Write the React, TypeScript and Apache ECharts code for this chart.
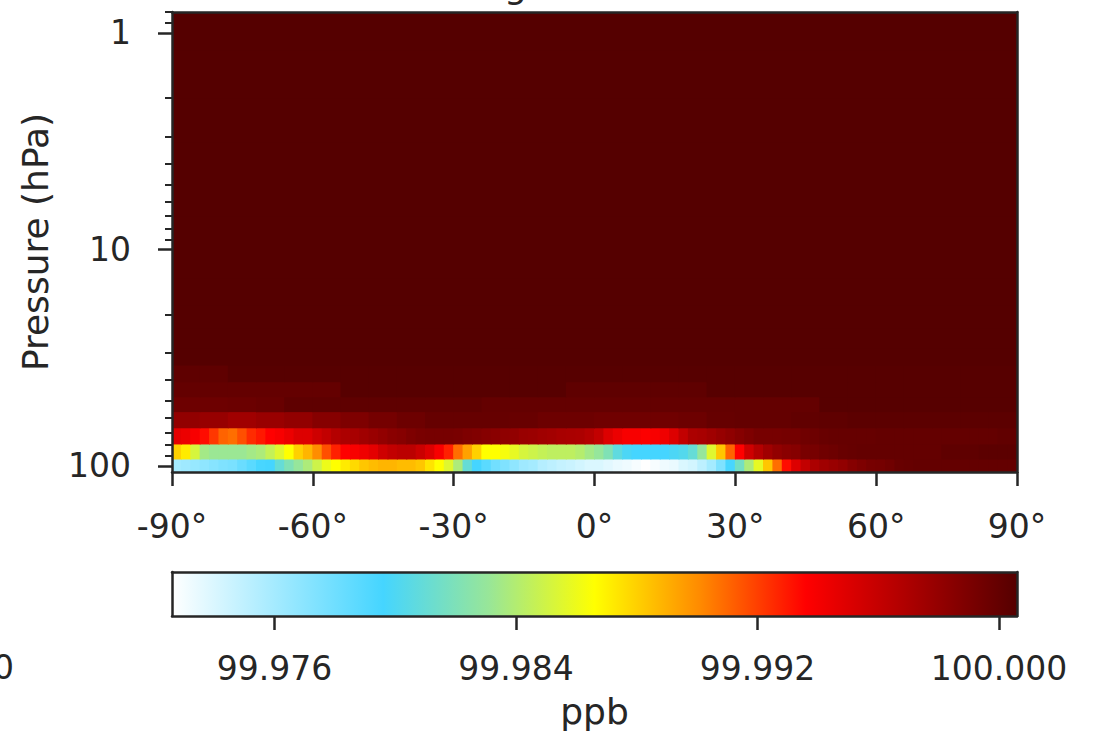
import React, { useEffect, useRef } from "react";
import * as echarts from "echarts";

// ---------------- data ----------------
const LAT_MIN = -90;
const LAT_MAX = 90;
const LAT_TICKS = [-90, -60, -30, 0, 30, 60, 90];

// pressure level edges (hPa), from the bottom (surface side) upwards
const P_EDGES = [106.6, 92.8, 79.1, 66.6, 56.1, 47.9, 40.8, 34.2, 28.5, 23, 18, 13.5, 10, 7, 4.8, 3.2, 2, 1.2, 0.8];
const P_MIN = 0.8;
const P_MAX = 106.6;
const P_MAJOR_TICKS = [1, 10, 100];
const P_MINOR_TICKS = [0.8, 0.9, 2, 3, 4, 5, 6, 7, 8, 9, 20, 30, 40, 50, 60, 70, 80, 90];

// mixing ratio (ppb) per latitude band, one list per level (bottom level first)
const LEVEL_1 = [
  99.976, 99.9762, 99.9765, 99.9768, 99.9771, 99.9774, 99.9776, 99.9782, 99.9788, 99.9795,
  99.9796, 99.981, 99.9821, 99.983, 99.9838, 99.9849, 99.986, 99.9866, 99.9872, 99.9877,
  99.9883, 99.9886, 99.9888, 99.9888, 99.9886, 99.9886, 99.9883, 99.9874, 99.9866, 99.9855,
  99.9838, 99.981, 99.9796, 99.9788, 99.9779, 99.9774, 99.9768, 99.9762, 99.976, 99.9754,
  99.9751, 99.9748, 99.9746, 99.9743, 99.974, 99.974, 99.9737, 99.9734, 99.9732, 99.9729,
  99.9726, 99.9729, 99.9732, 99.9734, 99.974, 99.9743, 99.9751, 99.976, 99.9774, 99.9795,
  99.9816, 99.9838, 99.9858, 99.9883, 99.9908, 99.9933, 99.995, 99.9961, 99.997, 99.9975,
  99.9978, 99.9981, 99.9986, 99.9989, 99.9992, 99.9993, 99.9995, 99.9998, 99.9999, 100.0,
  100.0, 100.0, 100.0, 100.0, 100.0, 100.0, 100.0, 100.0, 100.0, 100.0,
];
const LEVEL_2 = [
  99.988, 99.9872, 99.9852, 99.9835, 99.9832, 99.9832, 99.9832, 99.9832, 99.9835, 99.9838,
  99.9846, 99.9855, 99.9866, 99.988, 99.9888, 99.99, 99.9916, 99.9928, 99.9936, 99.9939,
  99.9942, 99.9947, 99.9956, 99.9961, 99.9964, 99.9964, 99.9958, 99.995, 99.9939, 99.9928,
  99.9908, 99.9894, 99.988, 99.9866, 99.9866, 99.9863, 99.9858, 99.9852, 99.9849, 99.9846,
  99.9844, 99.9844, 99.9844, 99.9841, 99.9835, 99.983, 99.9821, 99.9807, 99.9799, 99.9796,
  99.9796, 99.9796, 99.9796, 99.9799, 99.9802, 99.981, 99.983, 99.9855, 99.9883, 99.9911,
  99.9936, 99.9956, 99.9967, 99.9975, 99.9981, 99.9984, 99.9986, 99.9991, 99.9992, 99.9995,
  99.9996, 99.9998, 99.9999, 100.0, 100.0, 100.0, 100.0, 100.0, 100.0, 100.0,
  100.0, 100.0, 100.0002, 100.0002, 100.0002, 100.0002, 100.0003, 100.0003, 100.0003, 100.0003,
];
const LEVEL_3 = [
  99.9947, 99.9944, 99.9939, 99.9933, 99.9922, 99.9911, 99.9908, 99.9916, 99.9925, 99.993,
  99.9936, 99.9939, 99.9944, 99.995, 99.995, 99.9956, 99.9961, 99.9967, 99.997, 99.9972,
  99.9975, 99.9978, 99.9981, 99.9984, 99.9986, 99.9989, 99.9991, 99.9992, 99.9992, 99.9992,
  99.9991, 99.9989, 99.9988, 99.9986, 99.9984, 99.9982, 99.9981, 99.9978, 99.9977, 99.9975,
  99.9974, 99.9972, 99.9971, 99.997, 99.9967, 99.9961, 99.995, 99.9944, 99.9939, 99.9939,
  99.9937, 99.9939, 99.9942, 99.995, 99.9961, 99.997, 99.9972, 99.9975, 99.9979, 99.9982,
  99.9986, 99.9989, 99.9992, 99.9992, 99.9992, 99.9993, 99.9993, 99.9995, 99.9996, 99.9998,
  99.9999, 99.9999, 99.9999, 99.9999, 99.9999, 100.0, 100.0, 100.0, 100.0, 100.0,
  100.0, 100.0, 100.0, 100.0, 100.0, 100.0, 100.0, 100.0, 100.0001, 100.0001,
];
const LEVEL_4 = [
  99.9981, 99.9979, 99.9975, 99.9978, 99.9981, 99.9986, 99.9989, 99.9993, 99.9996, 99.9999,
  99.9999, 99.9999, 99.9998, 99.9996, 99.9996, 99.9995, 99.9995, 99.9995, 99.9996, 99.9999,
  100.0, 100.0, 100.0001, 100.0002, 100.0003, 100.0003, 100.0003, 100.0003, 100.0003, 100.0003,
];
const LEVEL_5 = [
  99.9996, 99.9996, 99.9997, 99.9998, 100.0002, 100.0002, 100.0002, 100.0002, 100.0002, 100.0002,
  100.0002, 100.0, 100.0, 100.0, 100.0, 100.0, 100.0, 100.0, 100.0, 100.0,
  100.0, 100.0, 100.0, 100.0005, 100.0005, 100.0005, 100.0005, 100.0005, 100.0005, 100.0005,
];
const LEVEL_6 = [
  100.0, 100.0, 100.0, 100.0, 100.0, 100.0, 100.0005, 100.0005, 100.0005, 100.0005,
  100.0005, 100.0005, 100.0005, 100.0005, 100.0002, 100.0002, 100.0002, 100.0002, 100.0002, 100.0005,
  100.0005, 100.0005, 100.0005, 100.0005, 100.0005, 100.0005, 100.0005, 100.0005, 100.0005, 100.0005,
];
const LEVEL_7 = [
  100.0002, 100.0002, 100.0005, 100.0005, 100.0005, 100.0005, 100.0005, 100.0005, 100.0005, 100.0005,
  100.0005, 100.0005, 100.0005, 100.0005, 100.0005, 100.0005, 100.0005, 100.0005, 100.0005, 100.0005,
  100.0005, 100.0005, 100.0005, 100.0005, 100.0005, 100.0005, 100.0005, 100.0005, 100.0005, 100.0005,
];
const LEVEL_8 = [100.0006];
const LEVEL_9 = [100.0006];
const LEVEL_10 = [100.0006];
const LEVEL_11 = [100.0006];
const LEVEL_12 = [100.0006];
const LEVEL_13 = [100.0006];
const LEVEL_14 = [100.0006];
const LEVEL_15 = [100.0006];
const LEVEL_16 = [100.0006];
const LEVEL_17 = [100.0006];
const LEVEL_18 = [100.0006];

const LEVELS = [
  LEVEL_1, LEVEL_2, LEVEL_3, LEVEL_4, LEVEL_5, LEVEL_6, LEVEL_7, LEVEL_8, LEVEL_9,
  LEVEL_10, LEVEL_11, LEVEL_12, LEVEL_13, LEVEL_14, LEVEL_15, LEVEL_16, LEVEL_17, LEVEL_18,
];

// colour bar
const CBAR_MIN = 99.9726;
const CBAR_MAX = 100.0006;
const CBAR_TICKS = [99.976, 99.984, 99.992, 100.0];
const CMAP = ["#ffffff", "#a2eaff", "#45d5ff", "#98e698", "#ffff00", "#ff8a00", "#ff0000", "#aa0000", "#550000"];

const INK = "#262626";
const FONT = "DejaVu Sans";

function buildCells() {
  const cells: number[][] = [];
  LEVELS.forEach((row, r) => {
    const step = (LAT_MAX - LAT_MIN) / row.length;
    row.forEach((v, i) => {
      cells.push([LAT_MIN + i * step, LAT_MIN + (i + 1) * step, P_EDGES[r], P_EDGES[r + 1], v]);
    });
  });
  return cells;
}

export default function App() {
  const ref = useRef<HTMLDivElement>(null);

  useEffect(() => {
    if (!ref.current) return;
    const chart = echarts.init(ref.current, null, { renderer: "svg" });
    const cells = buildCells();

    const frameAxisX = (gridIndex: number, position: string, extra: any = {}) => ({
      type: "value",
      gridIndex,
      position,
      axisLine: { show: true, onZero: false, lineStyle: { color: INK, width: 2.5 } },
      axisTick: { show: false },
      axisLabel: { show: false },
      splitLine: { show: false },
      z: 10,
      ...extra,
    });

    const option: any = {
      animation: false,
      backgroundColor: "#ffffff",
      textStyle: { fontFamily: FONT },
      grid: [
        { left: 172, right: 79, top: 12, height: 460, outerBoundsMode: "none", containLabel: false },
        { left: 172, right: 79, top: 572, height: 44, outerBoundsMode: "none", containLabel: false },
      ],
      xAxis: [
        {
          type: "value",
          gridIndex: 0,
          position: "bottom",
          min: LAT_MIN,
          max: LAT_MAX,
          axisLine: { show: true, onZero: false, lineStyle: { color: INK, width: 2.5 } },
          axisTick: { show: true, customValues: LAT_TICKS, length: 14, lineStyle: { color: INK, width: 2.5 } },
          axisLabel: {
            show: true,
            customValues: LAT_TICKS,
            formatter: (v: number) => `${v}°`,
            color: INK,
            fontSize: 33,
            fontFamily: FONT,
            margin: 38,
          },
          splitLine: { show: false },
          z: 10,
        },
        frameAxisX(0, "top", { min: LAT_MIN, max: LAT_MAX }),
        {
          type: "value",
          gridIndex: 1,
          position: "bottom",
          min: CBAR_MIN,
          max: CBAR_MAX,
          name: "ppb",
          nameLocation: "middle",
          nameGap: 77,
          nameMoveOverlap: false,
          nameTextStyle: { color: INK, fontSize: 36, fontFamily: FONT },
          axisLine: { show: true, onZero: false, lineStyle: { color: INK, width: 2.5 } },
          axisTick: { show: true, customValues: CBAR_TICKS, length: 14, lineStyle: { color: INK, width: 2.5 } },
          axisLabel: {
            show: true,
            customValues: CBAR_TICKS,
            formatter: (v: number) => v.toFixed(3),
            color: INK,
            fontSize: 33,
            fontFamily: FONT,
            margin: 36,
          },
          splitLine: { show: false },
          z: 10,
        },
        frameAxisX(1, "top", { min: CBAR_MIN, max: CBAR_MAX }),
      ],
      yAxis: [
        {
          type: "log",
          logBase: 10,
          gridIndex: 0,
          position: "left",
          min: P_MIN,
          max: P_MAX,
          inverse: true,
          name: "Pressure (hPa)",
          nameLocation: "middle",
          nameGap: 119,
          nameMoveOverlap: false,
          nameTextStyle: { color: INK, fontSize: 36, fontFamily: FONT },
          axisLine: { show: true, onZero: false, lineStyle: { color: INK, width: 2.5 } },
          axisTick: { show: true, customValues: P_MAJOR_TICKS, length: 14, lineStyle: { color: INK, width: 2.5 } },
          axisLabel: {
            show: true,
            customValues: P_MAJOR_TICKS,
            formatter: (v: number) => `${Math.round(v)}`,
            color: INK,
            fontSize: 33,
            fontFamily: FONT,
            margin: 41,
          },
          splitLine: { show: false },
          z: 10,
        },
        {
          type: "log",
          logBase: 10,
          gridIndex: 0,
          position: "left",
          min: P_MIN,
          max: P_MAX,
          inverse: true,
          axisLine: { show: false, onZero: false },
          axisTick: { show: true, customValues: P_MINOR_TICKS, length: 7, lineStyle: { color: INK, width: 2 } },
          axisLabel: { show: false },
          splitLine: { show: false },
          z: 10,
        },
        {
          type: "log",
          logBase: 10,
          gridIndex: 0,
          position: "right",
          min: P_MIN,
          max: P_MAX,
          inverse: true,
          axisLine: { show: true, onZero: false, lineStyle: { color: INK, width: 2.5 } },
          axisTick: { show: false },
          axisLabel: { show: false },
          splitLine: { show: false },
          z: 10,
        },
        {
          type: "value",
          gridIndex: 1,
          position: "left",
          min: 0,
          max: 1,
          axisLine: { show: true, onZero: false, lineStyle: { color: INK, width: 2.5 } },
          axisTick: { show: false },
          axisLabel: { show: false },
          splitLine: { show: false },
          z: 10,
        },
        {
          type: "value",
          gridIndex: 1,
          position: "right",
          min: 0,
          max: 1,
          axisLine: { show: true, onZero: false, lineStyle: { color: INK, width: 2.5 } },
          axisTick: { show: false },
          axisLabel: { show: false },
          splitLine: { show: false },
          z: 10,
        },
      ],
      visualMap: {
        type: "continuous",
        show: false,
        seriesIndex: 0,
        dimension: 4,
        min: CBAR_MIN,
        max: CBAR_MAX,
        inRange: { color: CMAP },
      },
      series: [
        {
          type: "custom",
          xAxisIndex: 0,
          yAxisIndex: 0,
          clip: true,
          data: cells,
          encode: { x: [0, 1], y: [2, 3] },
          renderItem: (params: any, api: any) => {
            const a = api.coord([api.value(0), api.value(2)]);
            const b = api.coord([api.value(1), api.value(3)]);
            const x = Math.min(a[0], b[0]);
            const y = Math.min(a[1], b[1]);
            return {
              type: "rect",
              shape: { x: x - 0.5, y: y - 0.5, width: Math.abs(b[0] - a[0]) + 1, height: Math.abs(b[1] - a[1]) + 1 },
              style: { fill: api.visual("color"), stroke: null },
            };
          },
        },
        {
          type: "custom",
          xAxisIndex: 2,
          yAxisIndex: 3,
          data: [[CBAR_MIN, CBAR_MAX]],
          renderItem: (params: any, api: any) => {
            const a = api.coord([api.value(0), 0]);
            const b = api.coord([api.value(1), 1]);
            const stops = CMAP.map((c, i) => ({ offset: i / (CMAP.length - 1), color: c }));
            return {
              type: "rect",
              shape: { x: a[0], y: b[1], width: b[0] - a[0], height: a[1] - b[1] },
              style: { fill: new echarts.graphic.LinearGradient(0, 0, 1, 0, stops), stroke: null },
            };
          },
        },
      ],
      graphic: [
        {
          type: "text",
          left: -7,
          top: 651,
          style: { text: "0", fill: INK, fontSize: 33, fontFamily: FONT },
        },
        {
          type: "text",
          x: 504,
          y: -33,
          style: { text: "g", fill: INK, fontSize: 36, fontFamily: FONT },
        },
      ],
    };

    chart.setOption(option);
    return () => chart.dispose();
  }, []);

  return (
    <div
      ref={ref}
      style={{ position: "absolute", left: 0, top: 0, width: 1096, height: 741 }}
    />
  );
}
